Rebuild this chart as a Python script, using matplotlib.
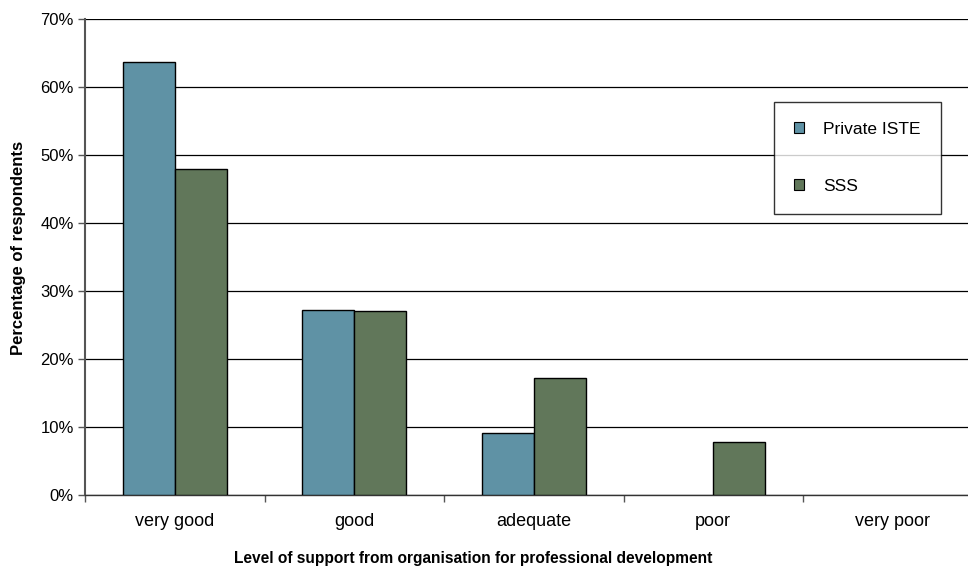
import matplotlib
matplotlib.use("Agg")
import matplotlib.pyplot as plt
import numpy as np

plt.rcParams['font.family'] = ['Liberation Sans', 'DejaVu Sans']

levels = ["very good", "good", "adequate", "poor", "very poor"]
private_iste = [63.6, 27.2, 9.1, 0.0, 0.0]
sss = [47.9, 27.0, 17.2, 7.7, 0.0]

blue = "#5f92a5"
green = "#61775a"

fig = plt.figure(figsize=(9.68, 5.67), dpi=100)
# plot area runs a little past the right edge of the figure
ax = fig.add_axes([85 / 968, 72.3 / 567, 897.5 / 968, 475.7 / 567])

x = np.arange(len(levels))
w = 52 / 179.5
for vals, off, col, lab in [(private_iste, -w / 2, blue, "Private ISTE"),
                            (sss, w / 2, green, "SSS")]:
    bars = ax.bar(x + off, vals, w, color=col, edgecolor="black", linewidth=1.0,
                  label=lab, zorder=3)
    # empty categories get no outline
    for b, v in zip(bars, vals):
        if v == 0:
            b.set_linewidth(0)

ax.set_xlim(-0.5, len(levels) - 0.5)
ax.set_ylim(0, 70)
ax.set_yticks(np.arange(0, 71, 10))
ax.set_yticklabels([f"{v}%" for v in range(0, 71, 10)], fontsize=12)
ax.set_xticks(x)
ax.set_xticklabels(levels, fontsize=13)
ax.set_xticks(np.arange(-0.5, len(levels), 1), minor=True)
ax.tick_params(axis="x", which="major", length=0, pad=13)
ax.tick_params(axis="x", which="minor", length=5, color="#555555", width=1)
ax.tick_params(axis="y", length=5, color="#555555", width=1, pad=3)

ax.yaxis.grid(True, color="black", linewidth=0.9, zorder=0)
for s in ["top", "right"]:
    ax.spines[s].set_visible(False)
ax.spines["left"].set_color("#555555")
ax.spines["left"].set_linewidth(1.5)
ax.spines["bottom"].set_color("#333333")
ax.spines["bottom"].set_linewidth(1.0)

ax.set_ylabel("Percentage of respondents", fontsize=12, fontweight="bold")
ax.yaxis.set_label_coords(-(85 - 18.5) / 897.5, (494.7 - 248) / 475.7)
ax.set_xlabel("Level of support from organisation for professional development",
              fontsize=11.2, fontweight="bold")
ax.xaxis.set_label_coords((473 - 85) / 897.5, -(558 - 494.7) / 475.7)
ax.xaxis.label.set_va("center")
ax.yaxis.label.set_va("center")

leg = ax.legend(loc="upper left", bbox_to_anchor=(774 / 968, 1 - 102 / 567),
                bbox_transform=fig.transFigure, frameon=True, fancybox=False,
                fontsize=12.5, handlelength=0.6, handleheight=0.6, handletextpad=1.1,
                labelspacing=2.4, borderpad=1.15, borderaxespad=0)
leg.get_frame().set_edgecolor("black")
leg.get_frame().set_linewidth(1.0)
for h in leg.legend_handles:
    h.set_linewidth(0.8)

fig.savefig("out.png", dpi=100)
